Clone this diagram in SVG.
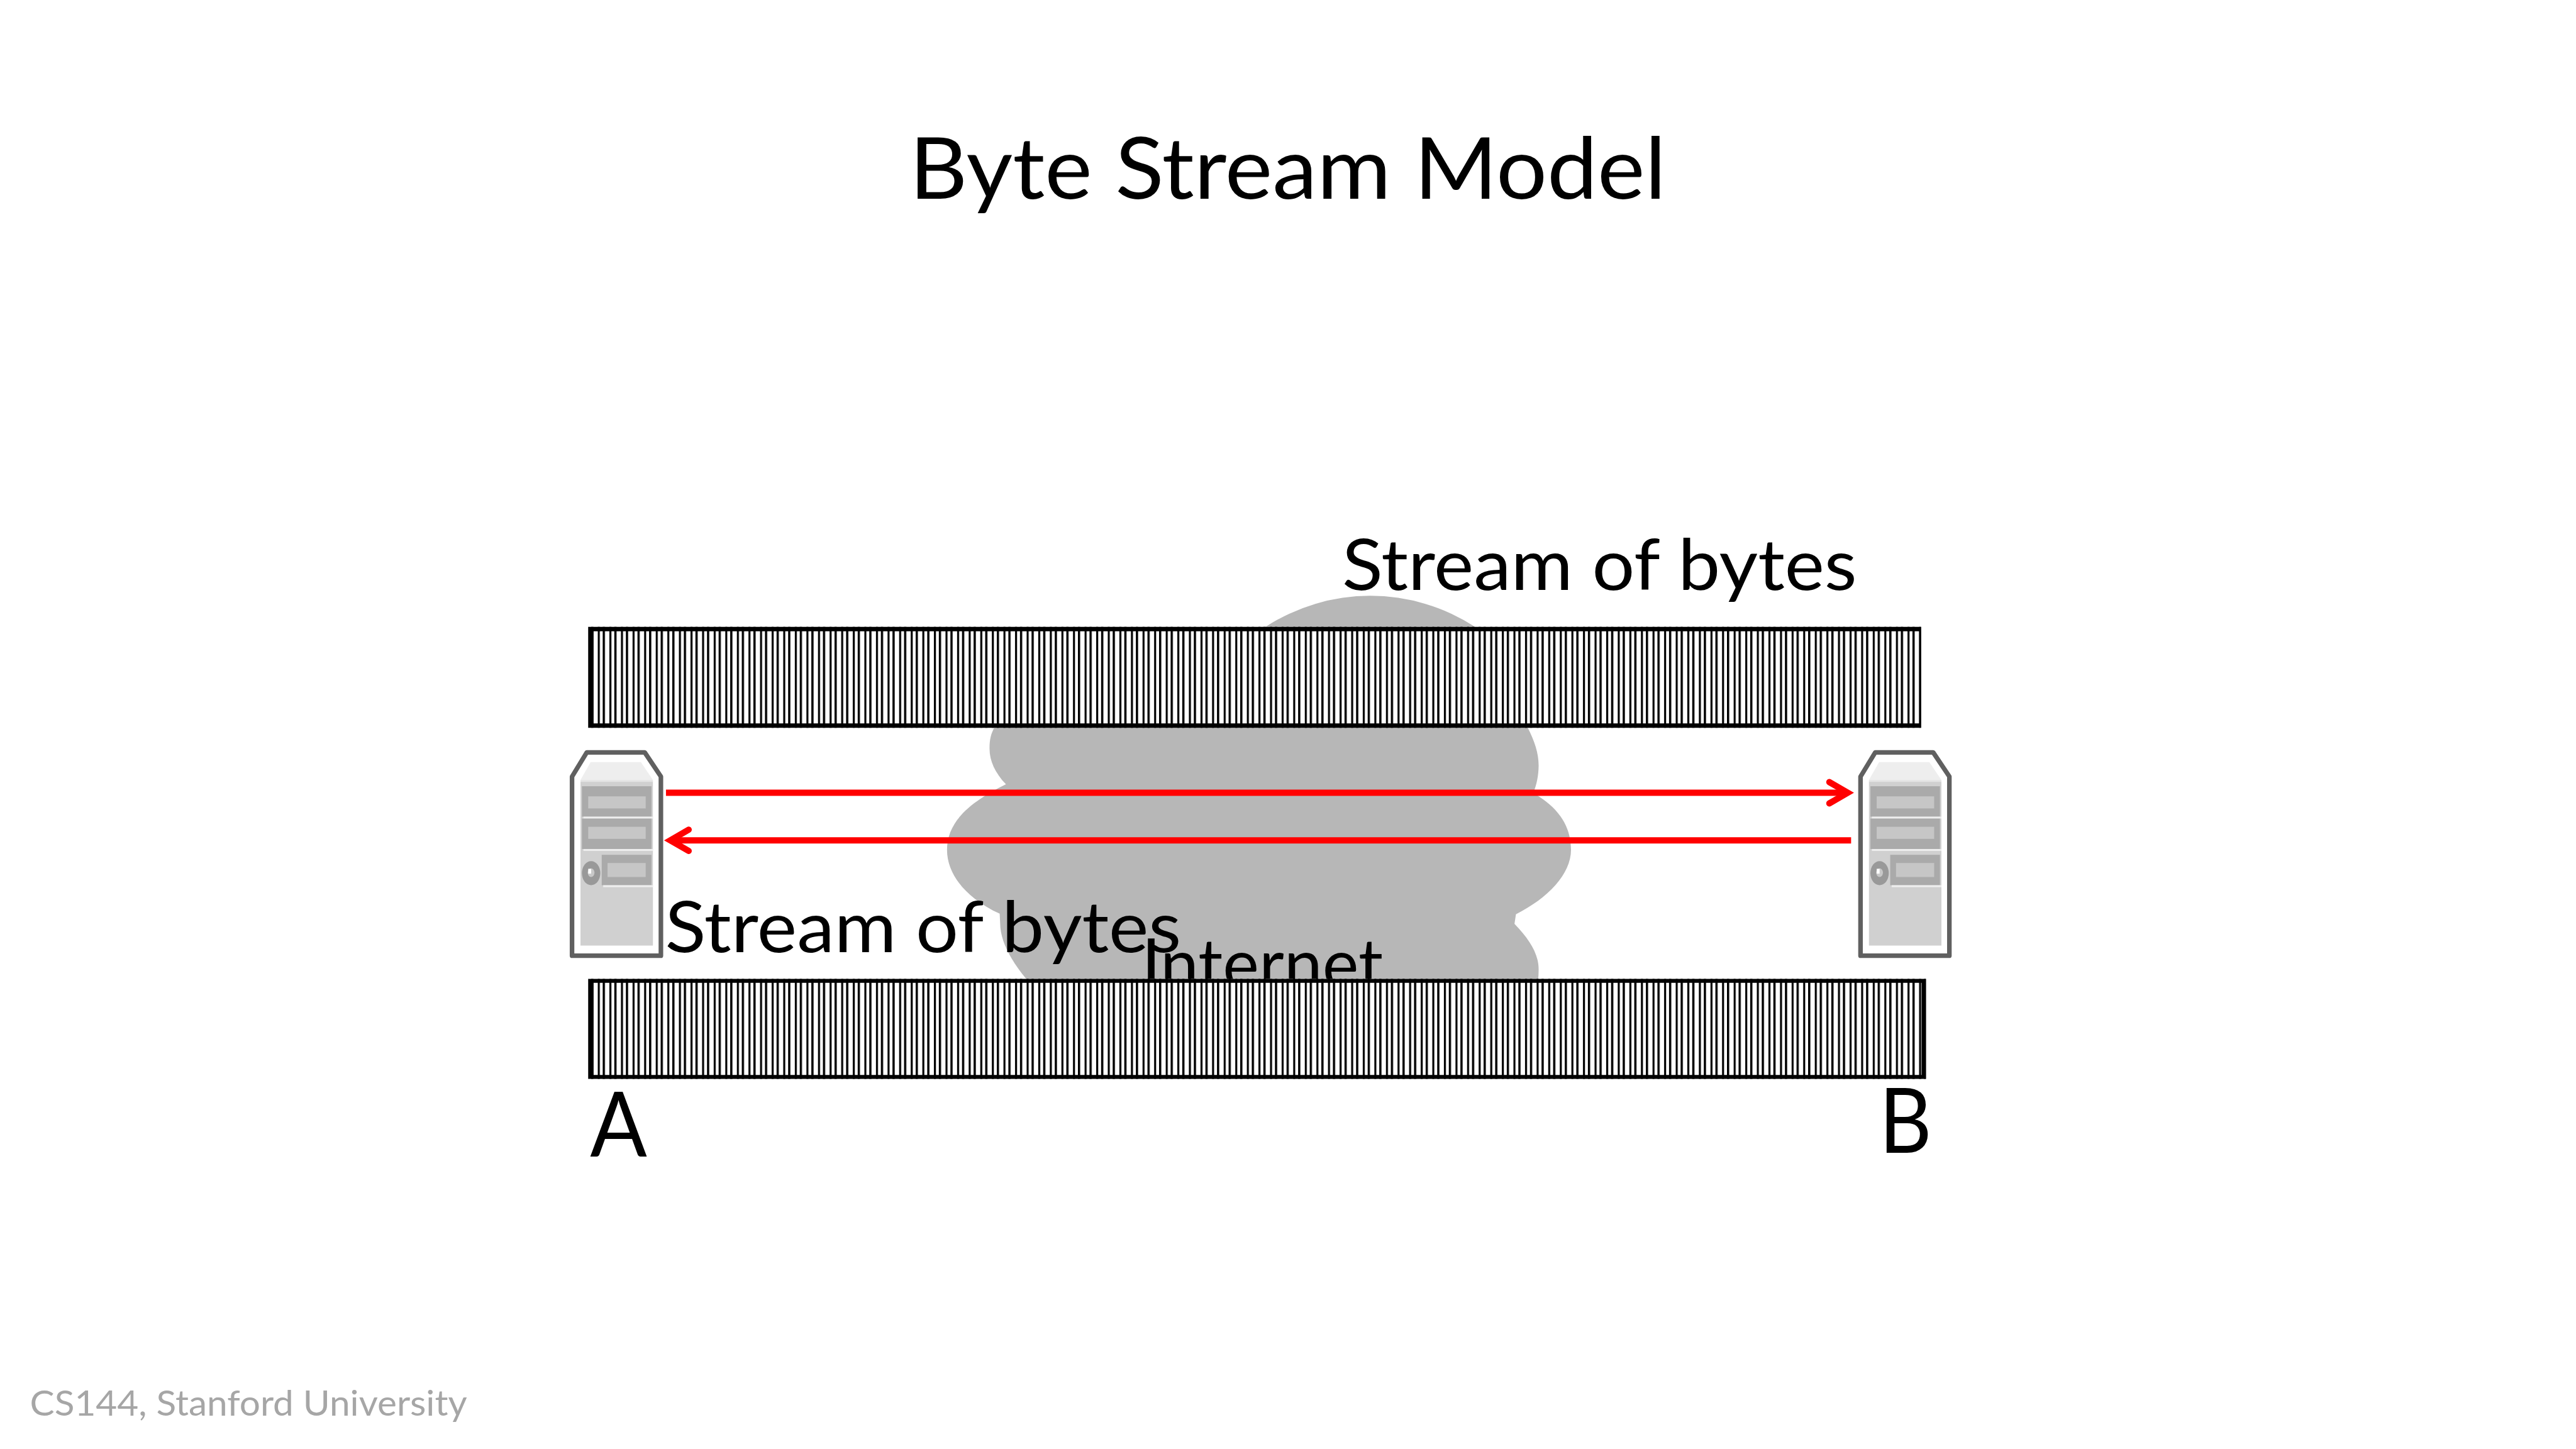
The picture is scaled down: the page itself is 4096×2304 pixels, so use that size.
<svg xmlns="http://www.w3.org/2000/svg" xmlns:xlink="http://www.w3.org/1999/xlink" width="4096" height="2304" viewBox="0 0 4096 2304">
<style>
text{font-family:"Lato","Liberation Sans",sans-serif;fill:#000}
.bar{fill:url(#bytes)}
.frame{fill:#000;fill-rule:evenodd}
.outline{fill:#fff;stroke:#606060;stroke-width:9.5;stroke-linejoin:round}
.arrow{stroke:#f00;stroke-width:13;fill:none}
.drive{fill:#aaa}.slot{fill:#c6c6c6}.edge{fill:#eee}
</style>
<defs>
<pattern id="bytes" patternUnits="userSpaceOnUse" x="0" y="0" width="24" height="100">
<rect width="24" height="100" fill="#fff"/>
<rect x="0" width="4.6" height="100" fill="#000"/><rect x="13.8" width="4.2" height="100" fill="#000"/>
</pattern>
<marker id="head" markerUnits="userSpaceOnUse" markerWidth="80" markerHeight="80" refX="60" refY="40" orient="auto" overflow="visible">
<path d="M22,18 L60,40 L22,62" fill="none" stroke="#f00" stroke-width="13" stroke-linecap="round"/>
</marker>
<g id="srv">
<path class="outline" d="M1184.5,1979V1608L1215,1558H1335L1368.5,1608V1979Z"/>
<rect x="1202" y="1618" width="150" height="340" fill="#d0d0d0"/>
<path fill="#eee" d="M1223,1578H1327L1352,1615H1202Z"/>
<rect x="1202" y="1615" width="150" height="4" fill="#e4e4e4"/>
<rect class="drive" x="1205" y="1628" width="144" height="63"/><rect class="slot" x="1218" y="1649" width="119" height="25"/>
<rect class="edge" x="1208" y="1691" width="144" height="4"/>
<rect class="drive" x="1205" y="1695" width="144" height="63"/><rect class="slot" x="1218" y="1712" width="119" height="25"/>
<rect class="edge" x="1208" y="1758" width="144" height="4"/>
<rect class="drive" x="1246" y="1770" width="103" height="63"/><rect class="slot" x="1258" y="1787" width="79" height="29"/>
<rect class="edge" x="1249" y="1833" width="103" height="4"/>
<ellipse cx="1224" cy="1808" rx="19" ry="25" fill="#999"/>
<ellipse cx="1224" cy="1807" rx="7" ry="9" fill="#c8c8c8"/>
<rect x="1218" y="1799" width="6" height="10" fill="#fff"/>
</g>
</defs>
<rect width="4096" height="2304" fill="#fff"/>
<g transform="scale(0.76790)">
<g id="title"><text x="1883" y="412" font-size="178" textLength="1567" lengthAdjust="spacingAndGlyphs">Byte Stream Model</text></g>
<g id="cloud">
<path fill="#b7b7b7" d="M2619,1299A398,398 0 0 1 3056,1299L3163,1506C3178,1535 3186,1560 3186,1585C3186,1605 3182,1625 3175,1642C3232,1675 3253,1715 3253,1760C3253,1810 3205,1860 3139,1893L3136,1913C3167,1945 3186,1975 3186,2007C3186,2040 3180,2060 3170,2080H2170L2125,2027C2090,1985 2071,1945 2071,1912L2070,1892C2000,1860 1961,1810 1961,1760C1961,1700 2010,1660 2083,1624C2060,1600 2049,1575 2049,1550C2049,1530 2052,1520 2059,1506Z"/>
</g>
<g id="internet-label"><text x="2364" y="2048" font-size="146" textLength="500" lengthAdjust="spacingAndGlyphs">Internet</text></g>
<g id="stream-top"><rect class="bar" x="1218" y="1298" width="2760" height="209"/><path class="frame" d="M1218,1298H3978V1507H1218ZM1229,1307V1498H3974V1307Z"/></g>
<g id="stream-bottom"><rect class="bar" x="1218" y="2027" width="2770" height="207"/><path class="frame" d="M1218,2027H3988V2234H1218ZM1229,2035V2226H3979V2035Z"/></g>
<g id="server-a"><use xlink:href="#srv" href="#srv"/></g>
<g id="server-b"><use xlink:href="#srv" href="#srv" transform="translate(2668,0)"/></g>
<g id="connectors">
<line class="arrow" x1="1379" y1="1641.5" x2="3826" y2="1641.5" marker-end="url(#head)"/>
<line class="arrow" x1="3833" y1="1740" x2="1388" y2="1740" marker-end="url(#head)"/>
</g>
<g id="labels">
<text x="2779" y="1222" font-size="146" textLength="1066" lengthAdjust="spacingAndGlyphs">Stream of bytes</text>
<text x="1377" y="1972" font-size="146" textLength="1069" lengthAdjust="spacingAndGlyphs">Stream of bytes</text>
<text x="1222" y="2395" font-size="188" textLength="118" lengthAdjust="spacingAndGlyphs">A</text>
<text x="3891" y="2387" font-size="186" textLength="109" lengthAdjust="spacingAndGlyphs">B</text>
<text x="62" y="2932" font-size="74" textLength="905" lengthAdjust="spacingAndGlyphs" style="fill:#a6a6a6">CS144, Stanford University</text>
</g>
</g>
</svg>
